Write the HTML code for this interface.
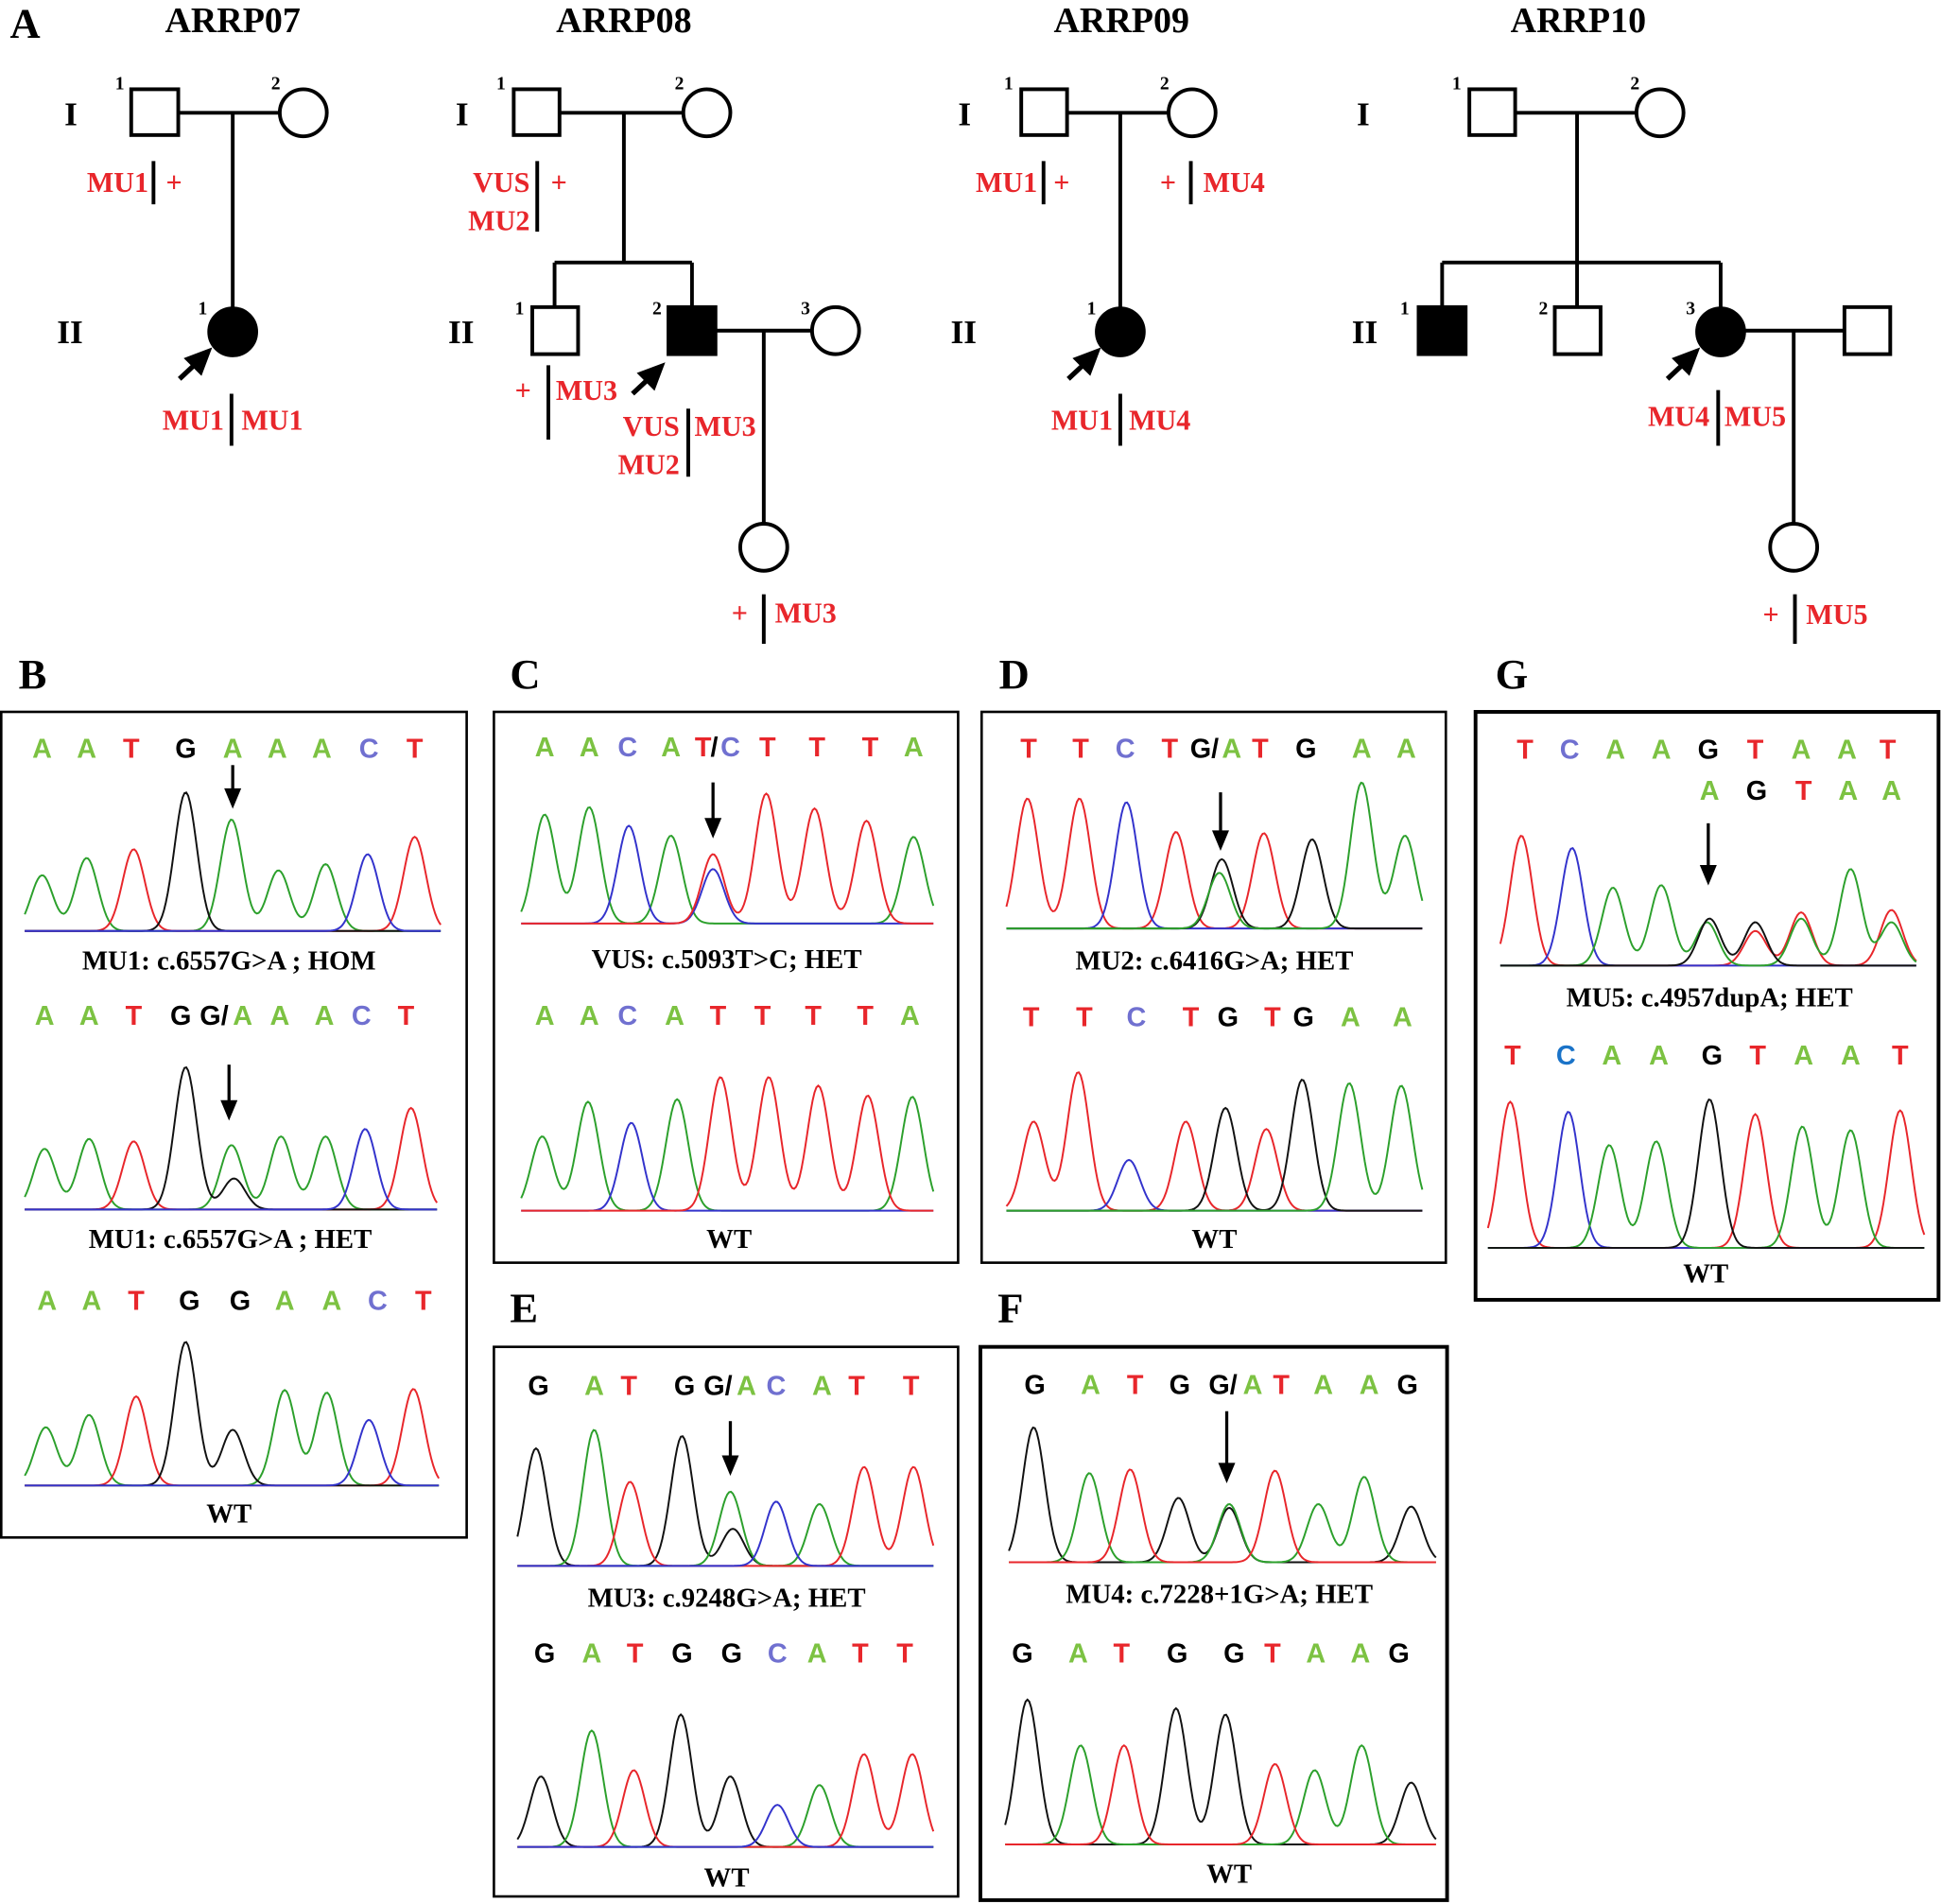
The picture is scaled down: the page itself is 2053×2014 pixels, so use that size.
<!DOCTYPE html>
<html><head><meta charset="utf-8">
<style>
html,body{margin:0;padding:0;background:#fff;}
svg{display:block;}
.t{font-family:"Liberation Serif",serif;font-weight:bold;}
.r{fill:#e8262b;font-family:"Liberation Serif",serif;font-weight:bold;font-size:23px;}
.n{font-family:"Liberation Serif",serif;font-weight:bold;font-size:15px;}
.b{font-family:"Liberation Sans",sans-serif;font-weight:bold;font-size:22px;}
.A{fill:#7cc242}.T{fill:#e8262b}.C{fill:#7070d0}.G{fill:#000}
.cap{font-family:"Liberation Serif",serif;font-weight:bold;font-size:22px;text-anchor:middle;}
</style></head><body>
<svg id="s" width="2053" height="2014" viewBox="0 0 1568 1538" xmlns="http://www.w3.org/2000/svg">
<rect width="1568" height="1538" fill="#fff"/>
<g class="t" font-size="34"><text x="8" y="30">A</text><text x="15" y="556">B</text><text x="412" y="556">C</text><text x="807" y="556">D</text><text x="1208" y="556">G</text><text x="412" y="1068">E</text><text x="806" y="1068">F</text></g>
<g class="t" font-size="29" text-anchor="middle"><text x="188" y="26">ARRP07</text><text x="504" y="26">ARRP08</text><text x="906" y="26">ARRP09</text><text x="1275" y="26">ARRP10</text></g>
<g class="t" font-size="27"><text x="52" y="101">I</text><text x="46" y="277">II</text><text x="368" y="101">I</text><text x="362" y="277">II</text><text x="774" y="101">I</text><text x="768" y="277">II</text><text x="1096" y="101">I</text><text x="1092" y="277">II</text></g>
<g stroke="#000" stroke-width="3" fill="none">
<rect x="106" y="72" width="38" height="37" fill="#fff"/><circle cx="245" cy="91" r="19"/>
<path d="M144 91H226M188 91V249"/><circle cx="188" cy="268" r="19" fill="#000"/>
<path d="M124 130V165M187 318V360"/>
<rect x="415" y="72" width="37" height="37"/><circle cx="571" cy="91" r="19"/>
<path d="M452 91H552M504 91V212M448 212H559M448 212V248M559 212V248M578 267H656M617 267V423"/>
<rect x="430" y="248" width="37" height="38"/><rect x="540" y="248" width="38" height="38" fill="#000"/>
<circle cx="675" cy="267" r="19"/><circle cx="617" cy="442" r="19"/>
<path d="M434 130V187M443 295V355M556 330V385M617 480V520"/>
<rect x="825" y="72" width="37" height="37"/><circle cx="963" cy="91" r="19"/>
<path d="M862 91H944M905 91V249M843 130V165M962 130V165M905 318V360"/><circle cx="905" cy="268" r="19" fill="#000"/>
<rect x="1187" y="72" width="37" height="37"/><circle cx="1341" cy="91" r="19"/>
<path d="M1224 91H1322M1274 91V212M1165 212H1390M1165 212V248M1274 212V248M1390 212V249M1409 267H1490M1449 267V423M1388 315V360M1450 480V520"/>
<rect x="1146" y="248" width="38" height="38" fill="#000"/><rect x="1256" y="248" width="37" height="38"/>
<circle cx="1390" cy="268" r="19" fill="#000"/><rect x="1490" y="248" width="37" height="38"/>
<circle cx="1449" cy="442" r="19"/>
</g>
<g stroke="#000" stroke-width="4" fill="#000">
<path d="M145 306L160 292"/><path d="M168 284L152 290L162 300Z"/>
<path d="M511 318L526 304"/><path d="M534 296L518 302L528 312Z"/>
<path d="M863 306L878 292"/><path d="M886 284L870 290L880 300Z"/>
<path d="M1347 306L1362 292"/><path d="M1370 284L1354 290L1364 300Z"/>
</g>
<g class="n"><text x="93" y="72">1</text><text x="219" y="72">2</text><text x="160" y="254">1</text>
<text x="401" y="72">1</text><text x="545" y="72">2</text><text x="416" y="254">1</text><text x="527" y="254">2</text><text x="647" y="254">3</text>
<text x="811" y="72">1</text><text x="937" y="72">2</text><text x="878" y="254">1</text>
<text x="1173" y="72">1</text><text x="1317" y="72">2</text><text x="1131" y="254">1</text><text x="1243" y="254">2</text><text x="1362" y="254">3</text></g>
<g class="r">
<text x="120" y="155" text-anchor="end">MU1</text><text x="134" y="155">+</text>
<text x="181" y="347" text-anchor="end">MU1</text><text x="195" y="347">MU1</text>
<text x="428" y="155" text-anchor="end">VUS</text><text x="428" y="186" text-anchor="end">MU2</text><text x="445" y="155">+</text>
<text x="416" y="323">+</text><text x="449" y="323">MU3</text>
<text x="549" y="352" text-anchor="end">VUS</text><text x="549" y="383" text-anchor="end">MU2</text><text x="561" y="352">MU3</text>
<text x="591" y="503">+</text><text x="626" y="503">MU3</text>
<text x="838" y="155" text-anchor="end">MU1</text><text x="851" y="155">+</text>
<text x="937" y="155">+</text><text x="972" y="155">MU4</text>
<text x="899" y="347" text-anchor="end">MU1</text><text x="912" y="347">MU4</text>
<text x="1381" y="344" text-anchor="end">MU4</text><text x="1393" y="344">MU5</text>
<text x="1424" y="504">+</text><text x="1459" y="504">MU5</text>
</g>
<g fill="none" stroke="#000">
<rect x="1" y="575" width="376" height="667" stroke-width="2"/>
<rect x="399" y="575" width="375" height="445" stroke-width="2"/>
<rect x="793" y="575" width="375" height="445" stroke-width="2"/>
<rect x="1192" y="575" width="374" height="475" stroke-width="3"/>
<rect x="399" y="1088" width="375" height="444" stroke-width="2"/>
<rect x="792" y="1088" width="377" height="447" stroke-width="3"/>
</g>
<g class="b" text-anchor="middle">
<text x="34" y="612" class="A">A</text><text x="70" y="612" class="A">A</text><text x="106" y="612" class="T">T</text><text x="150" y="612" class="G">G</text><text x="188" y="612" class="A">A</text><text x="224" y="612" class="A">A</text><text x="260" y="612" class="A">A</text><text x="298" y="612" class="C">C</text><text x="335" y="612" class="T">T</text>
<text x="36" y="828" class="A">A</text><text x="72" y="828" class="A">A</text><text x="108" y="828" class="T">T</text><text x="146" y="828" class="G">G</text><text x="173" y="828" class="G">G/</text><text x="196" y="828" class="A">A</text><text x="226" y="828" class="A">A</text><text x="262" y="828" class="A">A</text><text x="292" y="828" class="C">C</text><text x="328" y="828" class="T">T</text>
<text x="38" y="1058" class="A">A</text><text x="74" y="1058" class="A">A</text><text x="110" y="1058" class="T">T</text><text x="153" y="1058" class="G">G</text><text x="194" y="1058" class="G">G</text><text x="230" y="1058" class="A">A</text><text x="268" y="1058" class="A">A</text><text x="305" y="1058" class="C">C</text><text x="342" y="1058" class="T">T</text>
<text x="440" y="611" class="A">A</text><text x="476" y="611" class="A">A</text><text x="507" y="611" class="C">C</text><text x="542" y="611" class="A">A</text><text x="568" y="611" class="T">T</text><text x="577" y="611" class="G">/</text><text x="590" y="611" class="C">C</text><text x="620" y="611" class="T">T</text><text x="660" y="611" class="T">T</text><text x="703" y="611" class="T">T</text><text x="738" y="611" class="A">A</text>
<text x="440" y="828" class="A">A</text><text x="476" y="828" class="A">A</text><text x="507" y="828" class="C">C</text><text x="545" y="828" class="A">A</text><text x="580" y="828" class="T">T</text><text x="616" y="828" class="T">T</text><text x="657" y="828" class="T">T</text><text x="699" y="828" class="T">T</text><text x="735" y="828" class="A">A</text>
<text x="831" y="612" class="T">T</text><text x="873" y="612" class="T">T</text><text x="909" y="612" class="C">C</text><text x="945" y="612" class="T">T</text><text x="973" y="612" class="G">G/</text><text x="995" y="612" class="A">A</text><text x="1018" y="612" class="T">T</text><text x="1055" y="612" class="G">G</text><text x="1100" y="612" class="A">A</text><text x="1136" y="612" class="A">A</text>
<text x="833" y="829" class="T">T</text><text x="876" y="829" class="T">T</text><text x="918" y="829" class="C">C</text><text x="962" y="829" class="T">T</text><text x="992" y="829" class="G">G</text><text x="1028" y="829" class="T">T</text><text x="1053" y="829" class="G">G</text><text x="1091" y="829" class="A">A</text><text x="1133" y="829" class="A">A</text>
<text x="1232" y="613" class="T">T</text><text x="1268" y="613" class="C">C</text><text x="1305" y="613" class="A">A</text><text x="1342" y="613" class="A">A</text><text x="1380" y="613" class="G">G</text><text x="1418" y="613" class="T">T</text><text x="1455" y="613" class="A">A</text><text x="1492" y="613" class="A">A</text><text x="1525" y="613" class="T">T</text>
<text x="1381" y="646" class="A">A</text><text x="1419" y="646" class="G">G</text><text x="1457" y="646" class="T">T</text><text x="1493" y="646" class="A">A</text><text x="1528" y="646" class="A">A</text>
<text x="1222" y="860" class="T">T</text><text x="1265" y="860" style="fill:#1a73c8">C</text><text x="1302" y="860" class="A">A</text><text x="1340" y="860" class="A">A</text><text x="1383" y="860" class="G">G</text><text x="1420" y="860" class="T">T</text><text x="1457" y="860" class="A">A</text><text x="1495" y="860" class="A">A</text><text x="1535" y="860" class="T">T</text>
<text x="435" y="1127" class="G">G</text><text x="480" y="1127" class="A">A</text><text x="508" y="1127" class="T">T</text><text x="553" y="1127" class="G">G</text><text x="580" y="1127" class="G">G/</text><text x="603" y="1127" class="A">A</text><text x="627" y="1127" class="C">C</text><text x="664" y="1127" class="A">A</text><text x="692" y="1127" class="T">T</text><text x="736" y="1127" class="T">T</text>
<text x="440" y="1343" class="G">G</text><text x="478" y="1343" class="A">A</text><text x="513" y="1343" class="T">T</text><text x="551" y="1343" class="G">G</text><text x="591" y="1343" class="G">G</text><text x="628" y="1343" class="C">C</text><text x="660" y="1343" class="A">A</text><text x="695" y="1343" class="T">T</text><text x="731" y="1343" class="T">T</text>
<text x="836" y="1126" class="G">G</text><text x="881" y="1126" class="A">A</text><text x="917" y="1126" class="T">T</text><text x="953" y="1126" class="G">G</text><text x="988" y="1126" class="G">G/</text><text x="1012" y="1126" class="A">A</text><text x="1035" y="1126" class="T">T</text><text x="1069" y="1126" class="A">A</text><text x="1106" y="1126" class="A">A</text><text x="1137" y="1126" class="G">G</text>
<text x="826" y="1343" class="G">G</text><text x="871" y="1343" class="A">A</text><text x="906" y="1343" class="T">T</text><text x="951" y="1343" class="G">G</text><text x="997" y="1343" class="G">G</text><text x="1028" y="1343" class="T">T</text><text x="1063" y="1343" class="A">A</text><text x="1099" y="1343" class="A">A</text><text x="1130" y="1343" class="G">G</text>
</g>
<g class="cap">
<text x="185" y="783">MU1: c.6557G&gt;A ; HOM</text>
<text x="186" y="1008">MU1: c.6557G&gt;A ; HET</text>
<text x="185" y="1230">WT</text>
<text x="587" y="782">VUS: c.5093T&gt;C; HET</text>
<text x="589" y="1008">WT</text>
<text x="981" y="783">MU2: c.6416G&gt;A; HET</text>
<text x="981" y="1008">WT</text>
<text x="1381" y="813">MU5: c.4957dupA; HET</text>
<text x="1378" y="1036">WT</text>
<text x="587" y="1298">MU3: c.9248G&gt;A; HET</text>
<text x="587" y="1524">WT</text>
<text x="985" y="1295">MU4: c.7228+1G&gt;A; HET</text>
<text x="993" y="1521">WT</text>
</g>
<g id="tr" fill="none" stroke-width="1.5"></g>
<g stroke="#000" stroke-width="2.5" fill="#000">
<path d="M188 618V640"/><path d="M183 638L193 638L188 650Z"/>
<path d="M185 860V890"/><path d="M180 890L190 890L185 902Z"/>
<path d="M576 632V662"/><path d="M571 662L581 662L576 674Z"/>
<path d="M986 640V672"/><path d="M981 672L991 672L986 684Z"/>
<path d="M1380 665V700"/><path d="M1375 700L1385 700L1380 712Z"/>
<path d="M590 1148V1177"/><path d="M585 1177L595 1177L590 1189Z"/>
<path d="M991 1140V1183"/><path d="M986 1183L996 1183L991 1195Z"/>
</g>
</svg>
<script>
var col={A:"#2ca02c",T:"#e8262b",C:"#3333cc",G:"#111"};
var g=document.getElementById("tr");
function tr(x0,x1,b,pk,sig){
  sig=sig||9;
  var cols={};
  pk.forEach(function(p){(cols[p[2]]=cols[p[2]]||[]).push(p);});
  for(var c in cols){
    var d="";
    for(var x=x0;x<=x1;x+=1.5){
      var y=0;cols[c].forEach(function(p){var s=p[3]||sig;y+=(b-p[1])*Math.exp(-Math.pow(x-p[0],2)/(2*s*s));});
      d+=(d?"L":"M")+x.toFixed(1)+" "+(b-y).toFixed(1);
    }
    var e=document.createElementNS("http://www.w3.org/2000/svg","path");
    e.setAttribute("d",d);e.setAttribute("stroke",col[c]);g.appendChild(e);
  }
}
tr(20,357,752,[[34,707,"A"],[70,693,"A"],[108,686,"T"],[150,640,"G"],[187,662,"A"],[225,703,"A"],[263,698,"A"],[297,690,"C"],[335,676,"T"]]);
tr(20,353,977,[[36,928,"A"],[72,920,"A"],[108,922,"T"],[150,862,"G"],[187,925,"A"],[189,952,"G"],[227,918,"A"],[263,918,"A"],[295,912,"C"],[332,895,"T"]]);
tr(20,355,1200,[[37,1153,"A"],[72,1143,"A"],[110,1128,"T"],[150,1084,"G"],[188,1155,"G"],[230,1123,"A"],[264,1125,"A"],[298,1147,"C"],[334,1122,"T"]]);
tr(421,754,746,[[440,658,"A"],[476,652,"A"],[508,667,"C"],[542,675,"A"],[576,690,"T"],[576,702,"C"],[619,641,"T"],[658,653,"T"],[700,663,"T"],[738,676,"A"]]);
tr(421,754,978,[[438,918,"A"],[475,890,"A"],[510,907,"C"],[547,888,"A"],[582,870,"T"],[621,870,"T"],[661,877,"T"],[701,885,"T"],[737,886,"A"]]);
tr(813,1150,750,[[830,645,"T"],[872,645,"T"],[910,648,"C"],[950,672,"T"],[987,694,"G"],[985,705,"A"],[1021,673,"T"],[1060,678,"G"],[1100,632,"A"],[1135,675,"A"]]);
tr(813,1150,978,[[835,906,"T"],[871,866,"T"],[912,937,"C"],[958,906,"T"],[990,895,"G"],[1023,912,"T"],[1052,872,"G"],[1090,875,"A"],[1132,877,"A"]]);
tr(1212,1548,780,[[1229,675,"T"],[1270,685,"C"],[1303,717,"A"],[1342,715,"A"],[1379,745,"A"],[1381,742,"G"],[1418,745,"G"],[1418,752,"T"],[1455,737,"T"],[1455,742,"A"],[1495,702,"A"],[1528,735,"T"],[1528,745,"A"]]);
tr(1202,1555,1008,[[1220,890,"T"],[1267,898,"C"],[1300,925,"A"],[1338,922,"A"],[1381,888,"G"],[1418,900,"T"],[1456,910,"A"],[1495,913,"A"],[1535,897,"T"]]);
tr(418,754,1265,[[433,1170,"G"],[480,1155,"A"],[509,1197,"T"],[551,1160,"G"],[590,1205,"A"],[592,1235,"G"],[627,1213,"C"],[662,1215,"A"],[698,1185,"T"],[738,1185,"T"]]);
tr(418,754,1492,[[437,1435,"G"],[478,1398,"A"],[512,1430,"T"],[550,1385,"G"],[590,1435,"G"],[628,1458,"C"],[662,1442,"A"],[698,1417,"T"],[737,1417,"T"]]);
tr(815,1160,1262,[[835,1153,"G"],[880,1190,"A"],[913,1187,"T"],[952,1210,"G"],[993,1215,"A"],[993,1218,"G"],[1030,1188,"T"],[1065,1215,"A"],[1102,1193,"A"],[1140,1217,"G"]]);
tr(812,1160,1490,[[830,1373,"G"],[873,1410,"A"],[908,1410,"T"],[950,1380,"G"],[990,1385,"G"],[1030,1425,"T"],[1062,1430,"A"],[1100,1410,"A"],[1140,1440,"G"]]);
</script>
</body></html>
